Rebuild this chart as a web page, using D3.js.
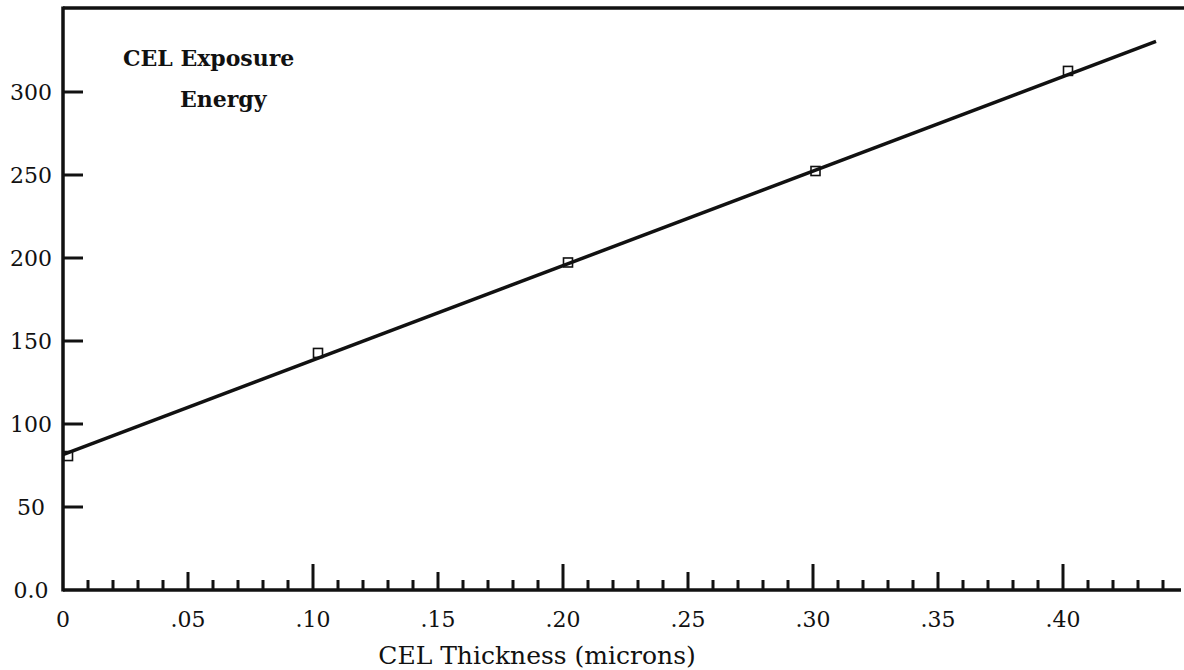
<!DOCTYPE html>
<html>
<head>
<meta charset="utf-8">
<script src="https://cdn.jsdelivr.net/npm/d3@7"></script>
<style>
  body { margin: 0; background: #fff; }
  svg { display: block; }
  text { font-family: "DejaVu Serif", "Liberation Serif", serif; fill: #111; }
</style>
</head>
<body>
<div class="playground"></div>
<script>
// measured points (thickness in microns, exposure energy)
var thickness = [0.002, 0.102, 0.202, 0.301, 0.402];
var energy = [80.7, 142.8, 197.3, 252.4, 312.7];

// fitted straight line, read at its two ends
var fitX = [0, 0.4372];
var fitY = [81.5, 330.5];

var yTicks = [0, 50, 100, 150, 200, 250, 300];
var yTickLabels = ["0.0", "50", "100", "150", "200", "250", "300"];
var xTicks = [0, 0.05, 0.10, 0.15, 0.20, 0.25, 0.30, 0.35, 0.40];
var xTickLabels = ["0", ".05", ".10", ".15", ".20", ".25", ".30", ".35", ".40"];

var width = 1184, height = 670;
var plotLeft = 63, plotBottom = 590, plotTop = 8;

var svg = d3.select('.playground')
  .append('svg')
  .attr('width', width)
  .attr('height', height);

var x = d3.scaleLinear().domain([0, 0.4468]).range([plotLeft, 1180]);
var y = d3.scaleLinear().domain([0, 350.6]).range([plotBottom, plotTop]);

// x axis: minor ticks every .01, medium at .05, tall at .10
var minor = d3.range(1, 45).map(function(i){ return i / 100; });
var isMult = function(v, m){ return Math.abs(Math.round(v / m) * m - v) < 1e-9; };
var gx = svg.append('g').attr('transform', 'translate(0,' + plotBottom + ')');
gx.selectAll('line.tk')
  .data(minor)
  .enter()
  .append('line')
  .attr('x1', function(d){ return x(d); })
  .attr('x2', function(d){ return x(d); })
  .attr('y1', 0)
  .attr('y2', function(d){
    if (isMult(d, 0.1)) return -26;
    if (isMult(d, 0.05)) return -18;
    return -10;
  })
  .attr('stroke', '#111')
  .attr('stroke-width', 3);

gx.selectAll('text')
  .data(xTicks)
  .enter()
  .append('text')
  .attr('x', function(d){ return x(d); })
  .attr('y', 37)
  .attr('text-anchor', 'middle')
  .style('font-size', '22px')
  .text(function(d, i){ return xTickLabels[i]; });

// y axis ticks
var gy = svg.append('g');
gy.selectAll('line')
  .data(yTicks.slice(1))
  .enter()
  .append('line')
  .attr('x1', plotLeft)
  .attr('x2', plotLeft + 20)
  .attr('y1', function(d){ return y(d); })
  .attr('y2', function(d){ return y(d); })
  .attr('stroke', '#111')
  .attr('stroke-width', 3);

gy.selectAll('text')
  .data(yTicks)
  .enter()
  .append('text')
  .attr('x', 31)
  .attr('y', function(d){ return y(d); })
  .attr('dy', '0.36em')
  .attr('text-anchor', 'middle')
  .style('font-size', '22px')
  .text(function(d, i){ return yTickLabels[i]; });

// frame: left axis, bottom axis, top border
svg.append('line')
  .attr('x1', plotLeft).attr('x2', 1181)
  .attr('y1', plotBottom).attr('y2', plotBottom)
  .attr('stroke', '#111').attr('stroke-width', 3.5);
svg.append('line')
  .attr('x1', plotLeft).attr('x2', plotLeft)
  .attr('y1', plotTop - 1.5).attr('y2', plotBottom + 1.5)
  .attr('stroke', '#111').attr('stroke-width', 3.5);
svg.append('line')
  .attr('x1', plotLeft).attr('x2', width)
  .attr('y1', plotTop).attr('y2', plotTop)
  .attr('stroke', '#111').attr('stroke-width', 3.5);

// fit line
var line = d3.line()
  .x(function(d){ return x(d[0]); })
  .y(function(d){ return y(d[1]); });
svg.append('path')
  .datum(d3.zip(fitX, fitY))
  .attr('d', line)
  .attr('fill', 'none')
  .attr('stroke', '#111')
  .attr('stroke-width', 3.5);

// square markers
svg.selectAll('rect.pt')
  .data(d3.zip(thickness, energy))
  .enter()
  .append('rect')
  .attr('class', 'pt')
  .attr('x', function(d){ return x(d[0]) - 4.5; })
  .attr('y', function(d){ return y(d[1]) - 4.5; })
  .attr('width', 9)
  .attr('height', 9)
  .attr('fill', 'none')
  .attr('stroke', '#111')
  .attr('stroke-width', 1.6);

// titles
svg.append('text')
  .attr('x', 123).attr('y', 66)
  .style('font-size', '22px')
  .style('font-weight', 'bold')
  .text('CEL Exposure');
svg.append('text')
  .attr('x', 180).attr('y', 107)
  .style('font-size', '22px')
  .style('font-weight', 'bold')
  .text('Energy');

svg.append('text')
  .attr('x', 537).attr('y', 664)
  .attr('text-anchor', 'middle')
  .style('font-size', '25px')
  .text('CEL Thickness (microns)');
</script>
</body>
</html>
